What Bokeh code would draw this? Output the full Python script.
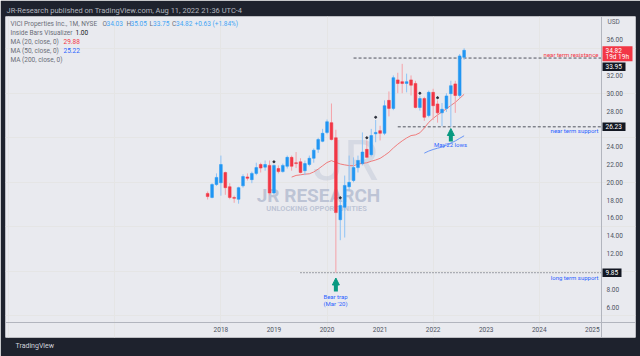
import pandas as pd
from bokeh.plotting import figure
from bokeh.models import Range1d, FixedTicker, LinearAxis, Title, Arrow, NormalHead, PrintfTickFormatter
from bokeh.core.properties import value
from bokeh.embed import file_html
from bokeh.resources import INLINE

# ---------------- data: VICI monthly candles (Oct 2017 .. Aug 2022) ----------------
months = pd.date_range("2017-10-01", "2022-08-01", freq="MS")
opens = [18.75, 18.3, 19.75, 19.95, 21.1, 19.5, 18.3, 18.1, 19.6, 20.6, 20.3, 21.0,
         22.0, 21.7, 21.9, 18.8, 21.55, 21.2, 21.8, 22.8, 22.2, 22.3, 21.3, 22.0,
         22.7, 23.7, 24.6, 25.6, 26.7, 25.0, 15.8, 17.2, 19.5, 20.2, 21.65, 22.1,
         23.7, 23.1, 25.45, 25.8, 25.5, 29.2, 28.3, 31.5, 31.3, 31.1, 31.5, 31.1,
         28.4, 29.4, 27.5, 30.1, 28.8, 27.8, 28.3, 29.95, 31.05, 29.75, 34.03]
highs = [18.97, 19.9, 21.0, 23.0, 21.2, 19.9, 18.5, 19.5, 20.9, 21.0, 21.2, 22.2,
         22.2, 22.45, 22.45, 22.0, 21.9, 22.1, 23.0, 23.0, 23.4, 22.7, 22.45, 23.0,
         23.8, 25.0, 26.0, 27.05, 28.85, 25.9, 17.96, 20.76, 23.0, 22.8, 23.0, 25.6,
         24.7, 26.0, 27.0, 26.35, 29.2, 30.2, 32.0, 32.3, 33.3, 32.2, 32.0, 31.4,
         29.7, 29.6, 30.3, 30.5, 29.2, 28.9, 30.0, 31.4, 31.4, 34.4, 35.05]
lows = [18.07, 18.2, 19.6, 18.5, 18.6, 18.1, 17.7, 17.6, 19.4, 20.2, 19.9, 20.8,
        21.1, 21.3, 18.55, 18.6, 21.0, 21.1, 21.55, 21.3, 21.6, 21.0, 20.8, 21.8,
        22.2, 23.3, 24.5, 25.4, 24.7, 9.85, 13.5, 13.8, 19.0, 20.0, 21.1, 21.9,
        22.7, 22.9, 24.5, 24.7, 25.3, 27.4, 28.1, 30.0, 30.0, 30.1, 29.75, 28.3,
        28.05, 26.9, 27.3, 27.0, 26.7, 26.3, 27.9, 26.23, 27.8, 29.5, 33.75]
closes = [18.4, 19.75, 20.55, 22.0, 19.4, 18.3, 18.2, 19.4, 20.65, 20.45, 21.0, 21.65,
          21.6, 22.0, 18.8, 21.9, 21.2, 21.9, 22.8, 21.8, 22.1, 21.1, 22.1, 22.7,
          23.6, 24.8, 25.5, 26.8, 24.8, 16.6, 17.4, 19.65, 20.0, 21.65, 22.45, 23.4,
          22.8, 25.25, 25.6, 25.5, 28.6, 28.3, 31.75, 31.1, 31.1, 31.3, 30.9, 28.4,
          29.4, 27.3, 30.1, 28.6, 27.8, 28.2, 29.7, 30.85, 29.75, 34.19, 34.82]
inside_bars = ["2019-01", "2020-04", "2020-10", "2020-12", "2021-10", "2022-02"]

years = [2018, 2019, 2020, 2021, 2022, 2023, 2024, 2025]
price_ticks = [6, 8, 12, 14, 16, 18, 20, 22, 24, 28, 30, 32, 36]

level_values = [33.95, 26.23, 9.85]
level_names = ["near term resistance", "near term support", "long term support"]
level_from = ["2020-07", "2021-05", "2019-07"]
countdown = "19d 19h"

# ---------------- geometry ----------------
FONT = "Roboto"
BG = "#e9eaef"
DARK = "#1e222d"
UP, DOWN = "#2196f3", "#f23645"
UP_W, DOWN_W = "#8fc3f5", "#f5a2a8"
TEAL = "#089981"
BLUE_T = "#2962ff"
GRAY_T = "#5d606b"

PX0, PXY = 220.4, 53.064      # x of Jan 2018, px per year
PY36, PYD = 39.3, 8.907       # y of 36.00, px per dollar


def X(px):
    return 2018 + (px - PX0) / PXY


def Y(py):
    return 36 - (py - PY36) / PYD


W, H = 640, 356
L, R, T, B = 5, 5, 16, 19

p = figure(width=W, height=H, output_backend="svg", toolbar_location=None,
           x_range=Range1d(X(L), X(W - R)), y_range=Range1d(Y(H - B), Y(T)),
           x_axis_location=None, y_axis_location=None,
           min_border_left=L, min_border_right=R, min_border_top=T, min_border_bottom=B,
           background_fill_color=BG, border_fill_color=DARK, outline_line_color=None)

xs = [t.year + (t.month - 1) / 12 for t in months]
month_keys = [t.strftime("%Y-%m") for t in months]


def mx(s):
    t = pd.Timestamp(s + "-01")
    return t.year + (t.month - 1) / 12


def txt(px, py, s, color, size="6.5px", align="left", style="normal", alpha=1.0):
    p.text(x=[X(px)], y=[Y(py)], text=[s], text_color=color, text_font=value(FONT),
           text_font_size=size, text_align=align, text_baseline="middle",
           text_font_style=style, text_alpha=alpha)


# watermark
txt(345, 160, "JR", "#c2c8d8", size="56px", align="center", alpha=0.5)
txt(318, 195, "JR RESEARCH", "#aab3ca", size="19px", align="center", style="bold", alpha=0.7)
txt(316, 208, "UNLOCKING OPPORTUNITIES", "#aab3ca", size="7.5px", align="center", style="bold", alpha=0.7)

# axes (drawn inside the frame, TradingView-style)
xa = LinearAxis(fixed_location=Y(322), ticker=FixedTicker(ticks=years),
                formatter=PrintfTickFormatter(format="%d"))
ya = LinearAxis(fixed_location=X(601), ticker=FixedTicker(ticks=price_ticks),
                formatter=PrintfTickFormatter(format="%.2f"))
for ax in (xa, ya):
    ax.axis_line_color = "#b2b5be"
    ax.major_tick_line_color = None
    ax.minor_tick_line_color = None
    ax.major_tick_out = 0
    ax.major_tick_in = 0
    ax.minor_tick_out = 0
    ax.minor_tick_in = 0
    ax.major_label_text_font = FONT
    ax.major_label_text_font_size = "6.5px"
    ax.major_label_text_color = "#4c525e"
xa.major_label_standoff = 4
ya.major_label_standoff = 5
p.add_layout(xa, "below")
p.add_layout(ya, "right")

# header / footer
p.add_layout(Title(text="JR-Research published on TradingView.com, Aug 11, 2022 21:36 UTC-4",
                   align="left", text_color="#b2b5be", text_font_size="7.5px", text_font=FONT,
                   text_font_style="normal", standoff=4, offset=1), "above")
p.add_layout(Title(text="TradingView", align="left", text_color="#d1d4dc", text_font_size="7px",
                   text_font=FONT, text_font_style="normal", standoff=5, offset=10), "below")

# horizontal levels
x_sep = X(601)
dashes = ["3 2", "3 2", "1 2"]
for lv, start, d in zip(level_values, level_from, dashes):
    p.segment(x0=[mx(start)], y0=[lv], x1=[x_sep], y1=[lv], line_color="#50535e",
              line_width=1, line_dash=d)


def py_of(v):
    return PY36 + (36 - v) * PYD


txt(598, py_of(level_values[0]) - 4, level_names[0], DOWN, size="6px", align="right")
txt(598, py_of(level_values[1]) + 4, level_names[1], BLUE_T, size="6px", align="right")
txt(598, py_of(level_values[2]) + 4.5, level_names[2], BLUE_T, size="6px", align="right")

# moving averages
ma20 = pd.Series(closes).rolling(20).mean()
ma50 = pd.Series(closes).rolling(50).mean()
p.line(xs, ma20.tolist(), line_color="#f07070", line_width=1, line_alpha=0.9)
p.line(xs, ma50.tolist(), line_color="#5c8df6", line_width=1, line_alpha=0.9)

# candles
up = [c >= o for o, c in zip(opens, closes)]
wick_col = [UP_W if u else DOWN_W for u in up]
body_col = [UP if u else DOWN for u in up]
p.segment(x0=xs, y0=lows, x1=xs, y1=highs, line_color=wick_col, line_width=1)
p.vbar(x=xs, width=0.052, top=[max(o, c) for o, c in zip(opens, closes)],
       bottom=[min(o, c) for o, c in zip(opens, closes)], fill_color=body_col, line_color=body_col,
       line_width=0.5)

ib_x = [mx(m) for m in inside_bars]
ib_y = [highs[month_keys.index(m)] + 0.3 for m in inside_bars]
p.scatter(ib_x, ib_y, size=2, color="#2a2e39")

# arrows + notes
i_bear = month_keys.index("2020-03")
i_may = month_keys.index("2022-05")
for i, ytop, ybot in [(i_bear, 277.5, 291), (i_may, 128, 141)]:
    p.add_layout(Arrow(end=NormalHead(size=7, fill_color=TEAL, line_color=TEAL),
                       x_start=xs[i], y_start=Y(ybot), x_end=xs[i], y_end=Y(ytop),
                       line_color=TEAL, line_width=4))
txt(335, 295.5, "Bear trap", BLUE_T, size="6px", align="center")
txt(335, 302.5, "(Mar '20)", BLUE_T, size="6px", align="center")
txt(450, 144, "May'22 lows", BLUE_T, size="6px", align="center")

# price-scale labels
txt(607, 21.5, "USD", GRAY_T, size="6.5px")
last = closes[-1]
py_last = py_of(last)
p.quad(left=[X(602)], right=[X(632)], top=[Y(py_last - 4)], bottom=[Y(py_last + 11)],
       fill_color=DOWN, line_color=None)
txt(605, py_last, f"{last:.2f}", "#ffffff", size="6.5px")
txt(605, py_last + 7, countdown, "#ffffff", size="6.5px")
box_rows = [(level_values[0], 66.3, 625), (level_values[1], None, 625), (level_values[2], None, 621)]
for lv, cy, right in box_rows:
    if cy is None:
        cy = py_of(lv)
    p.quad(left=[X(602)], right=[X(right)], top=[Y(cy - 4.2)], bottom=[Y(cy + 4.2)],
           fill_color="#131722", line_color=None)
    txt(605, cy, f"{lv:.2f}", "#ffffff", size="6.5px")

# legend (top-left)
o, h, l, c = opens[-1], highs[-1], lows[-1], closes[-1]
chg = c - closes[-2]
pct = chg / closes[-2] * 100
LBL = "#6a6d78"
VAL = "#42a5f5"
txt(10, 23.3, "VICI Properties Inc., 1M, NYSE", LBL)
for xp, lab, xv, v in [(102, "O", 106, o), (126, "H", 130, h), (149, "L", 152.5, l), (171.5, "C", 175.5, c)]:
    txt(xp, 23.3, lab, LBL)
    txt(xv, 23.3, f"{v:.2f}", VAL)
txt(194, 23.3, f"{chg:+.2f} ({pct:+.2f}%)", VAL)
txt(10, 32.3, "Inside Bars Visualizer", LBL)
txt(75, 32.3, "1.00", "#131722")
txt(10, 41.3, "MA (20, close, 0)", LBL)
txt(63, 41.3, f"{ma20.iloc[-1]:.2f}", DOWN)
txt(10, 50.3, "MA (50, close, 0)", LBL)
txt(63, 50.3, f"{ma50.iloc[-1]:.2f}", BLUE_T)
txt(10, 59.3, "MA (200, close, 0)", LBL)

open("out.html", "w").write(file_html(p, INLINE))
